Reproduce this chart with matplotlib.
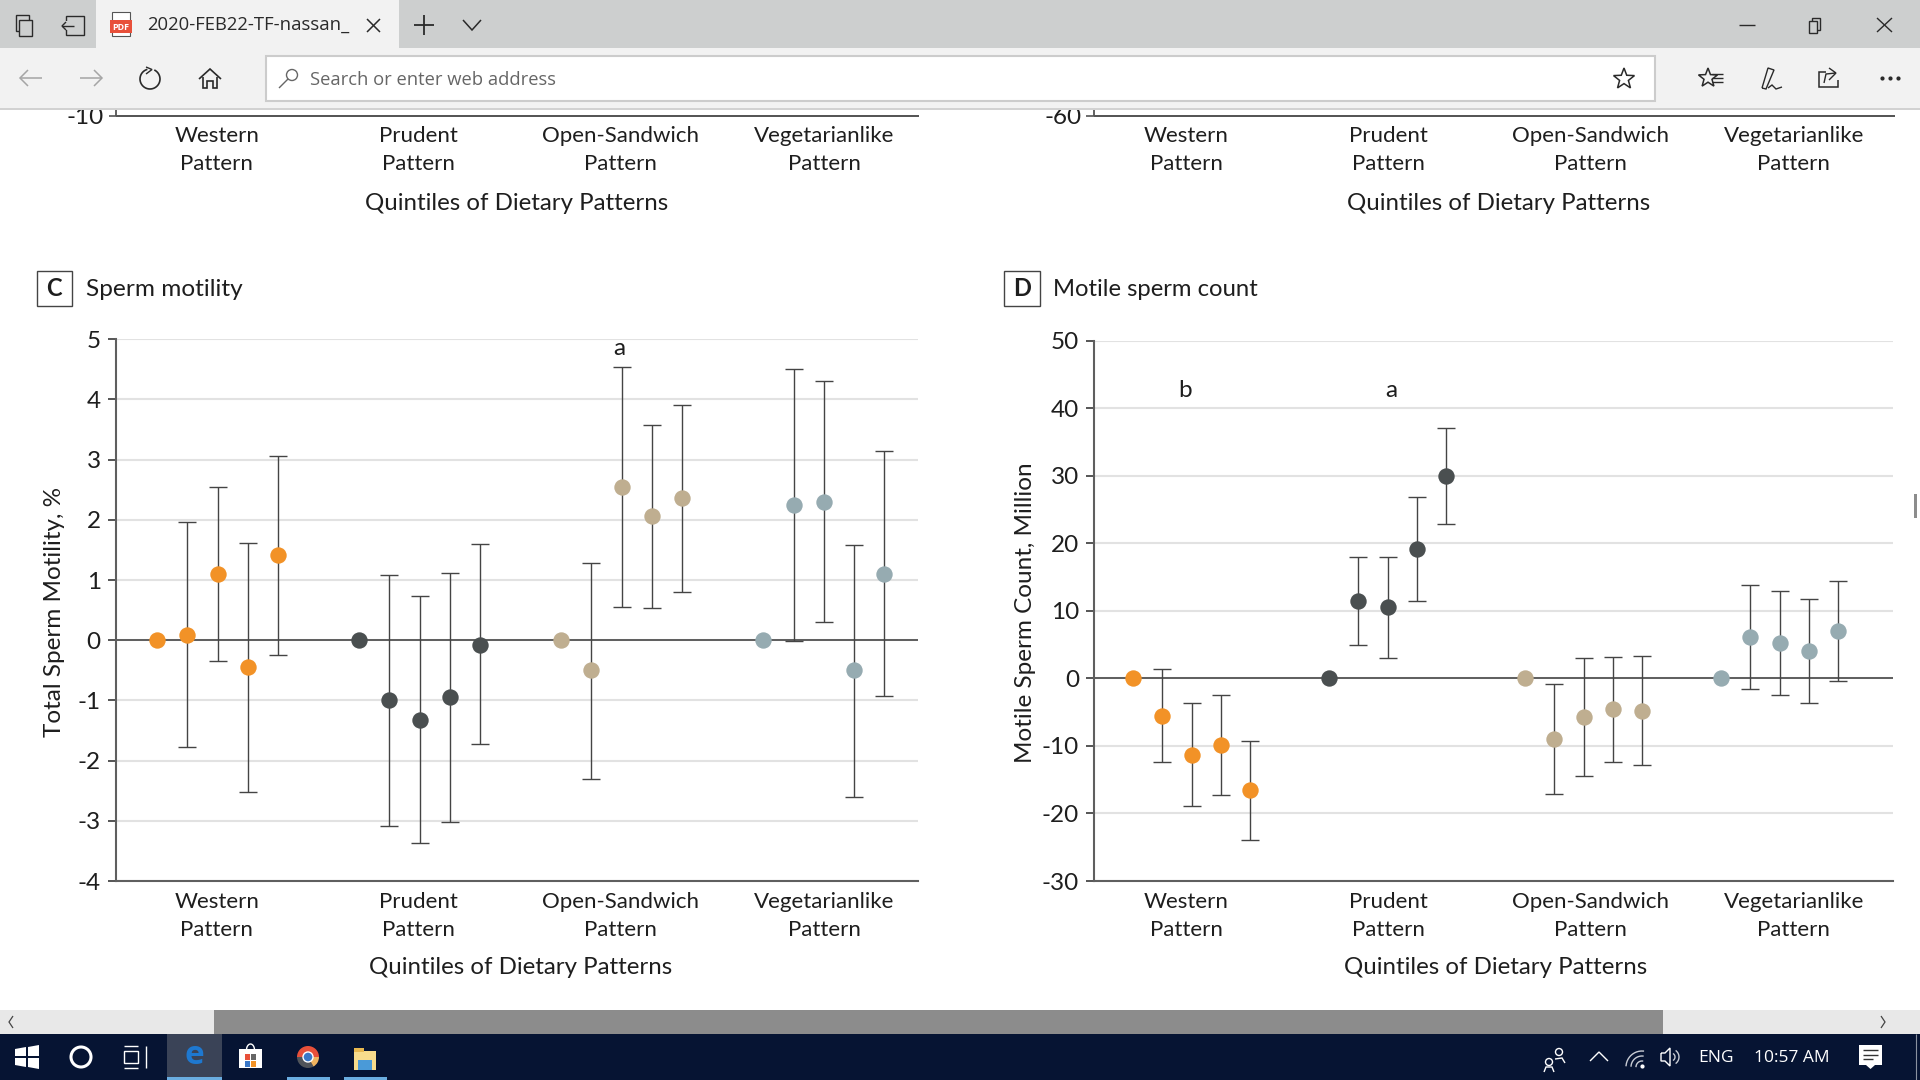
import numpy as np
import matplotlib
matplotlib.use("Agg")
import matplotlib.pyplot as plt
from matplotlib.patches import Rectangle, Circle, Polygon, Ellipse, Wedge

# ---------- data ----------
patterns = ["Western\nPattern", "Prudent\nPattern", "Open-Sandwich\nPattern", "Vegetarianlike\nPattern"]
group_colors = ["#F29227", "#4A4F50", "#BFAE90", "#96ABB1"]

c_yticks = [5, 4, 3, 2, 1, 0, -1, -2, -3, -4]
c_mean = [[0, 0.09, 1.10, -0.45, 1.41],
          [0, -1.00, -1.33, -0.95, -0.08],
          [0, -0.50, 2.54, 2.06, 2.36],
          [0, 2.24, 2.30, -0.50, 1.10]]
c_low = [[-1.77, -0.35, -2.52, -0.25],
         [-3.09, -3.37, -3.02, -1.73],
         [-2.30, 0.56, 0.54, 0.80],
         [-0.02, 0.31, -2.60, -0.92]]
c_high = [[1.96, 2.55, 1.62, 3.06],
          [1.08, 0.73, 1.12, 1.60],
          [1.28, 4.54, 3.57, 3.91],
          [4.50, 4.31, 1.58, 3.14]]

d_yticks = [50, 40, 30, 20, 10, 0, -10, -20, -30]
d_mean = [[0, -5.6, -11.3, -9.8, -16.5],
          [0, 11.5, 10.5, 19.2, 30.0],
          [0, -9.0, -5.7, -4.6, -4.8],
          [0, 6.1, 5.2, 4.1, 7.0]]
d_low = [[-12.4, -18.9, -17.2, -23.9],
         [5.0, 3.0, 11.5, 22.8],
         [-17.1, -14.5, -12.4, -12.8],
         [-1.6, -2.5, -3.6, -0.4]]
d_high = [[1.4, -3.7, -2.4, -9.2],
          [18.0, 17.9, 26.9, 37.1],
          [-0.8, 3.0, 3.2, 3.3],
          [13.9, 13.0, 11.8, 14.4]]

W, H = 1920, 1080
CHART_FONT = "Lato"
UI_FONT = "Open Sans"
TXT = "#1E1E1E"
fig = plt.figure(figsize=(W / 100, H / 100), dpi=100, facecolor="white")
plt.rcParams["font.family"] = CHART_FONT


def add_panel(left, right, top, bottom):
    return fig.add_axes([left / W, 1 - bottom / H, (right - left) / W, (bottom - top) / H], zorder=1)


def draw_panel(ax, means, lows, highs, yticks, ylabel, ylim, first_px, step_px, group_px, left, right, ylab_x):
    xlim = ((left - first_px) / step_px, (right - first_px) / step_px)
    group_step = group_px / step_px
    ax.set_xlim(*xlim)
    ax.set_ylim(*ylim)
    ax.set_yticks(yticks)
    ax.set_yticklabels([str(v) for v in yticks])
    ax.tick_params(axis="y", length=6, width=1.4, color="#555555", pad=5, labelsize=17.5, labelcolor=TXT)
    ax.tick_params(axis="x", length=0, pad=0, labelbottom=False)
    ax.grid(axis="y", color="#E2E2E2", lw=1.5, zorder=0)
    ax.set_axisbelow(True)
    ax.axhline(0, color="#3A3A3A", lw=1.1, zorder=1)
    for s in ("top", "right"):
        ax.spines[s].set_visible(False)
    for s in ("left", "bottom"):
        ax.spines[s].set_color("#5F5F5F")
        ax.spines[s].set_linewidth(1.5)
    for g in range(4):
        xs = g * group_step + np.arange(5)
        m = np.array(means[g])
        lo, hi = np.array(lows[g]), np.array(highs[g])
        ax.errorbar(xs[1:], m[1:], yerr=[m[1:] - lo, hi - m[1:]], fmt="none", ecolor="#444444",
                    elinewidth=1.0, capsize=6.2, capthick=1.0, zorder=3)
        ax.plot(xs, m, "o", ms=11.8, mfc=group_colors[g], mec="none", ls="none", zorder=4)
    ax.set_ylabel(ylabel, fontsize=17.5, color=TXT)
    ax.yaxis.set_label_coords((ylab_x - left) / (right - left), 0.496)


axc = add_panel(116, 917.7, 339.3, 881)
draw_panel(axc, c_mean, c_low, c_high, c_yticks, "Total Sperm Motility, %", (-4, 5),
           157, 30.25, 202.1, 116, 917.7, 65)
axc.text(15.29, 4.84, "a", ha="center", va="center", fontsize=17.5, color=TXT)

axd = add_panel(1094.3, 1893.3, 340.7, 881)
draw_panel(axd, d_mean, d_low, d_high, d_yticks, "Motile Sperm Count, Million", (-30, 50),
           1132.7, 29.4, 196, 1094.3, 1893.3, 1035.5)
axd.text(1.79, 42.7, "b", ha="center", va="center", fontsize=17.5, color=TXT)
axd.text(8.78, 42.7, "a", ha="center", va="center", fontsize=17.5, color=TXT)

# ---------- overlay in pixel coordinates ----------
ov = fig.add_axes([0, 0, 1, 1], zorder=5, facecolor="none")
ov.set_xlim(0, W)
ov.set_ylim(H, 0)
ov.axis("off")


def rect(x0, y0, x1, y1, fc, ec="none", lw=0, z=5):
    ov.add_patch(Rectangle((x0, y0), x1 - x0, y1 - y0, fc=fc, ec=ec, lw=lw, zorder=z))


def line(xs, ys, c="#222222", lw=1.1, z=6):
    ov.plot(xs, ys, color=c, lw=lw, zorder=z, solid_capstyle="butt", solid_joinstyle="miter")


def txt(x, y, s, size=16, ha="center", c=TXT, fam=CHART_FONT, z=7, **kw):
    ov.text(x, y, s, fontsize=size, ha=ha, va="center", color=c, family=fam, zorder=z, **kw)


# pattern labels
c_lab = [216.7, 418.8, 620.8, 824]
d_lab = [1186.5, 1388.6, 1590.6, 1793.9]
for xs, y1, y2 in ((c_lab, 136.5, 163.5), (d_lab, 136.5, 163.5), (c_lab, 902, 930), (d_lab, 902, 930)):
    for x, p in zip(xs, patterns):
        a, b = p.split("\n")
        txt(x, y1, a)
        txt(x, y2, b)
xl = "Quintiles of Dietary Patterns"
txt(516.7, 203, xl, size=17.3)
txt(1498.8, 203, xl, size=17.3)
txt(520.5, 967.5, xl, size=17.3)
txt(1496, 967.5, xl, size=17.3)

# cut-off panels A and B
line([116, 918.5], [115.7, 115.7], "#444444", 1.3, 3)
line([1093.5, 1895], [116.3, 116.3], "#444444", 1.3, 3)
line([109, 116], [115.7, 115.7], "#555555", 1.2, 3)
line([1086, 1093.5], [116.3, 116.3], "#555555", 1.2, 3)
line([116, 116], [105, 115.7], "#555555", 1.3, 3)
line([1093.5, 1093.5], [105, 116.3], "#555555", 1.3, 3)
txt(104, 117.5, "-10", ha="right", size=17.5, z=3)
txt(1082, 118, "-60", ha="right", size=17.5, z=3)

# panel headings
for x0, letter, tx, title, tsize in ((36.7, "C", 85.7, "Sperm motility", 17.6),
                                     (1004, "D", 1053, "Motile sperm count", 17.2)):
    rect(x0, 271, x0 + 35.5, 306, "white", "#444444", 1.0)
    txt(x0 + 17.7, 289, letter, size=17, weight="bold")
    txt(tx, 289.5, title, ha="left", size=tsize)

# window chrome
rect(0, 0, W, 48, "#CDCFCF", z=10)
rect(0, 48, W, 108, "#F2F2F2", z=10)
rect(0, 108, W, 110, "#D2D2D2", z=10)
rect(96, 0, 399, 48, "#F2F2F2", z=10)
rect(265.5, 56, 1655, 100.5, "white", "#CCCCCC", 1.5, z=11)

UI = "#2A2A2A"
txt(147, 25, "2020-FEB22-TF-nassan_", ha="left", size=13.35, c=UI, fam=UI_FONT, z=12)
txt(310, 80, "Search or enter web address", ha="left", size=13.2, c="#666666", fam=UI_FONT, z=12)

# tab bar icons
for dx, dy in ((0, 0), (3, 5)):
    ov.add_patch(Rectangle((16 + dx, 15 + dy), 13, 16, fc="#CDCFCF", ec=UI, lw=1, zorder=12))
ov.add_patch(Rectangle((66, 16), 18, 19, fc="none", ec=UI, lw=1, zorder=12))
rect(60, 21, 72, 30, "#CDCFCF", z=12)
line([62, 74], [26, 26], UI, 1.0, 13)
line([66, 62, 66], [22, 26, 30], UI, 1.0, 13)
ov.add_patch(Rectangle((112, 12), 18, 24, fc="white", ec="#555555", lw=0.8, zorder=12))
rect(110, 20, 132, 33, "#E8503A", z=13)
ov.text(121, 27, "PDF", fontsize=6.5, color="white", ha="center", va="center", weight="bold", zorder=14, family=UI_FONT)
line([367, 380], [19, 32], UI, 1.1, 12)
line([367, 380], [32, 19], UI, 1.1, 12)
line([414, 434], [25, 25], UI, 1.3, 12)
line([424, 424], [15, 35], UI, 1.3, 12)
line([463, 472, 481], [20, 30, 20], UI, 1.1, 12)
line([1739, 1755], [25, 25], UI, 1.0, 12)
ov.add_patch(Rectangle((1812, 18), 8, 12, fc="#CDCFCF", ec=UI, lw=1, zorder=12))
ov.add_patch(Rectangle((1809, 21), 8, 12, fc="#CDCFCF", ec=UI, lw=1, zorder=13))
line([1877, 1892], [18, 32], UI, 1.0, 12)
line([1877, 1892], [32, 18], UI, 1.0, 12)

# toolbar icons
G = "#A5A5A5"
line([20, 42], [78, 78], G, 1.1, 12)
line([28, 20, 28], [70, 78, 86], G, 1.1, 12)
line([80, 102], [78, 78], G, 1.1, 12)
line([94, 102, 94], [70, 78, 86], G, 1.1, 12)
th = np.radians(np.linspace(-60, 250, 40))
ov.plot(150 + 10 * np.cos(th), 79 + 10 * np.sin(th), color=UI, lw=1.2, zorder=12)
line([146, 152, 146], [67, 69.5, 74], UI, 1.0, 12)
line([199, 210, 221], [79, 69, 79], UI, 1.2, 12)
line([203, 203, 207, 207, 213, 213, 217, 217], [77, 88, 88, 81, 81, 88, 88, 77], UI, 1.2, 12)
ov.add_patch(Circle((292, 75), 5.5, fc="none", ec="#666666", lw=1, zorder=12))
line([288, 279], [79, 88], "#666666", 1.0, 12)


def star(cx, cy, r, fc="none"):
    ang = np.radians(-90 + 36 * np.arange(10))
    rad = np.where(np.arange(10) % 2 == 0, r, r * 0.42)
    ov.add_patch(Polygon(np.c_[cx + rad * np.cos(ang), cy + rad * np.sin(ang)], fc=fc, ec=UI, lw=1.1, zorder=12))


star(1624, 79, 11)
star(1708, 78, 10)
for yy in (74, 78, 82):
    line([1712, 1723], [yy, yy], UI, 1.0, 13)
line([1762, 1768, 1774, 1766, 1762], [88, 68, 70, 89, 88], UI, 1.0, 12)
line([1768, 1772, 1776, 1782], [88, 85, 89, 87], UI, 1.0, 12)
line([1826, 1819, 1819, 1838, 1838], [72, 72, 87, 87, 80], UI, 1.1, 12)
line([1824, 1826, 1836, 1829], [83, 74, 73, 68], UI, 1.0, 12)
line([1836, 1829], [73, 80], UI, 1.0, 12)
ov.plot([1882, 1890, 1898], [78, 78, 78], "o", color=UI, ms=2.0, zorder=12)

# scroll bars
rect(0, 1010, W, 1034, "#E8E8E8", z=10)
rect(214, 1010, 1663, 1034, "#8C8C8C", z=11)
line([13, 9, 13], [1016, 1022, 1028], "#444444", 0.9, 12)
line([1881, 1885, 1881], [1016, 1022, 1028], "#444444", 0.9, 12)
rect(1914, 494, 1917, 518, "#8C8C8C", z=10)

# task bar
rect(0, 1034, W, 1080, "#061433", z=10)
rect(167, 1034, 222, 1080, "#3A4357", z=11)
rect(167, 1077, 222, 1080, "#6AADE0", z=12)
rect(287, 1077, 330, 1080, "#6AADE0", z=12)
rect(344, 1077, 387, 1080, "#6AADE0", z=12)
ov.add_patch(Polygon([(15, 1049), (26, 1047), (26, 1056), (15, 1056)], fc="white", zorder=12))
ov.add_patch(Polygon([(28, 1047), (39, 1045), (39, 1056), (28, 1056)], fc="white", zorder=12))
ov.add_patch(Polygon([(15, 1058), (26, 1058), (26, 1067), (15, 1065)], fc="white", zorder=12))
ov.add_patch(Polygon([(28, 1058), (39, 1058), (39, 1069), (28, 1067)], fc="white", zorder=12))
ov.add_patch(Ellipse((81, 1057), 20, 20, fc="none", ec="white", lw=2.2, zorder=12))
W2 = "white"
ov.add_patch(Rectangle((124, 1051), 14, 12, fc="none", ec=W2, lw=1, zorder=12))
line([124, 138], [1046, 1046], W2, 1, 12)
line([124, 138], [1068, 1068], W2, 1, 12)
line([146, 146], [1046, 1068], W2, 1, 12)
ov.text(194.5, 1055, "e", fontsize=24, color="#1E78D0", ha="center", va="center", weight="bold", zorder=13, family=UI_FONT)
rect(239, 1049, 262, 1068, "white", z=12)
for (x, y, col) in ((245, 1054, "#E8503A"), (251, 1054, "#666666"), (245, 1061, "#3A78C8"), (251, 1061, "#F29227")):
    rect(x - 0.5, y, x + 5, y + 5.5, col, z=13)
th = np.radians(np.linspace(180, 360, 20))
ov.plot(250.5 + 4 * np.cos(th), 1050 + 6 * np.sin(th), color="white", lw=1, zorder=12)
ov.add_patch(Wedge((308, 1057), 11, 180, 360, fc="#E8503A", zorder=12))
ov.add_patch(Wedge((308, 1057), 11, 60, 180, fc="#50545A", zorder=12))
ov.add_patch(Wedge((308, 1057), 11, 0, 60, fc="#F0B460", zorder=12))
ov.add_patch(Circle((308, 1057), 5, fc="#3A78C8", ec="white", lw=1, zorder=13))
rect(354, 1051, 376, 1070, "#F8DC8C", z=12)
rect(354, 1048, 364, 1052, "#E8B850", z=12)
rect(358, 1060, 372, 1070, "#4A9AD8", z=13)
for cx, cy in ((1549, 1062), (1559, 1052)):
    ov.add_patch(Circle((cx, cy), 3.5, fc="none", ec=W2, lw=1, zorder=12))
line([1544, 1546, 1552, 1554], [1072, 1067, 1067, 1072], W2, 1, 12)
line([1555, 1562, 1565], [1059, 1058, 1063], W2, 1, 12)
line([1590, 1599, 1608], [1061, 1052, 1061], W2, 1, 12)
for r in (6, 11, 16):
    th = np.radians(np.linspace(185, 275, 12))
    ov.plot(1642 + r * np.cos(th), 1067 + r * np.sin(th), color="#C8CCD4", lw=1, zorder=12)
ov.plot([1642], [1066], "o", color="white", ms=2, zorder=12)
line([1661, 1665, 1670, 1670, 1665, 1661, 1661], [1053, 1053, 1048, 1066, 1061, 1061, 1053], W2, 1, 12)
th = np.radians(np.linspace(-50, 50, 12))
for r in (4, 8):
    ov.plot(1671 + r * np.cos(th), 1057 + r * np.sin(th), color="#C8CCD4", lw=1, zorder=12)
txt(1716, 1058, "ENG", size=12.5, c="white", fam=UI_FONT, z=12)
txt(1792, 1058, "10:57 AM", size=12.5, c="white", fam=UI_FONT, z=12)
rect(1859, 1045, 1882, 1065, "white", z=12)
ov.add_patch(Polygon([(1866, 1065), (1875, 1065), (1870.5, 1069)], fc="white", zorder=12))
for yy in (1050, 1054.5, 1059):
    line([1863, 1878 if yy < 1058 else 1873], [yy, yy], "#333333", 1, 13)
line([1915.5, 1915.5], [1034, 1080], "#8A92A0", 0.8, 12)

fig.savefig("out.png", dpi=100, facecolor="white")
